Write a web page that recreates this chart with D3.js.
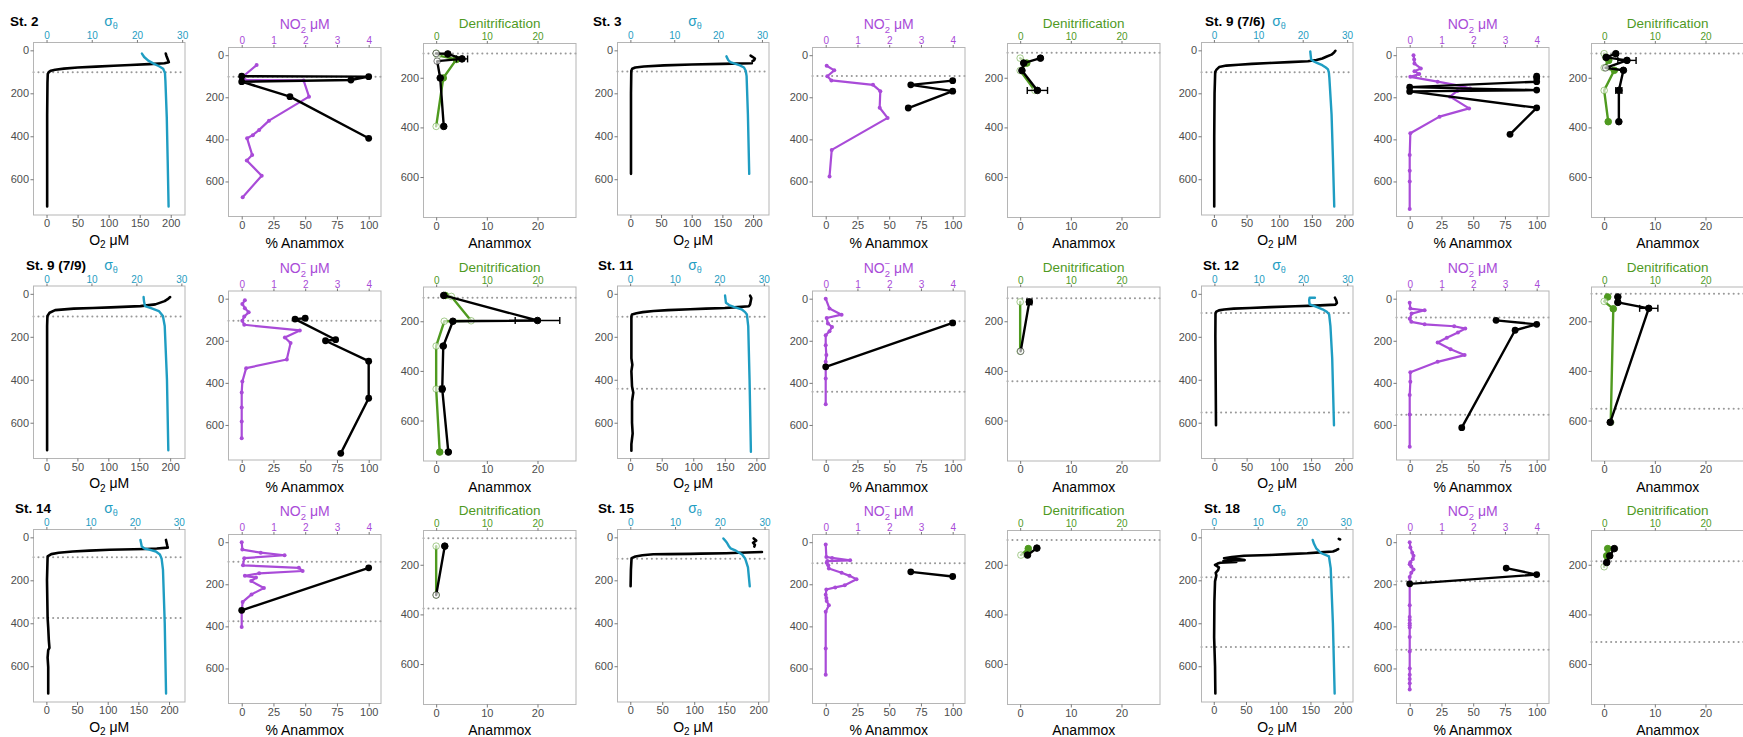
<!DOCTYPE html>
<html>
<head>
<meta charset="utf-8">
<script src="https://cdn.jsdelivr.net/npm/d3@7"></script>
<style>
  body { margin: 0; background: #fff; }
</style>
</head>
<body>
<svg id="chart" width="1743" height="737"></svg>
<script>
// ---- data ----
const stations = ["St. 2", "St. 3", "St. 9 (7/6)", "St. 9 (7/9)", "St. 11", "St. 12", "St. 14", "St. 15", "St. 18"];

// O2 profiles: [depth m, O2 uM]; null = gap in the trace
const o2Profiles = [
  [[15,192],[25,193],[40,195],[55,197],[60,190],[64,165],[68,135],[72,108],[76,80],[80,50],[85,28],[90,14],[95,7],[100,4],[110,2],[150,1.5],[300,1],[500,1],[727,1]],
  [[25,196],[30,199],[38,203],[45,202],[50,199],[55,null],[60,198],[63,150],[66,100],[70,55],[75,22],[80,8],[86,3],[95,1.5],[200,1],[575,1]],
  [[2,186],[10,184],[20,180],[30,172],[38,166],[45,157],[51,144],[55,115],[59,85],[63,58],[67,38],[71,19],[78,8],[90,4],[100,2],[200,1],[400,0.5],[727,0.5]],
  [[15,200],[25,196],[34,191],[42,183],[49,176],[57,152],[63,104],[66,75],[69,44],[76,14],[88,5],[103,1.5],[150,1],[400,1],[728,1]],
  [[8,190],[20,192],[35,191],[50,190],[58,188],[62,170],[66,150],[69,120],[72,95],[76,60],[80,37],[85,20],[90,10],[96,3],[105,2],[200,2],[300,2],[330,3.5],[360,2],[430,3],[460,5],[500,3],[600,3],[650,4],[700,2],[730,2]],
  [[18,187],[30,189],[42,190],[50,188],[55,156],[58,125],[62,87],[66,55],[69,30],[73,15],[77,7],[83,3],[90,1.7],[200,1.5],[400,2],[612,2.5]],
  [[12,195],[25,196],[38,197],[48,198],[52,180],[54,162],[58,103],[62,70],[66,43],[72,20],[78,8],[89,2],[200,1],[374,2],[420,3],[480,4],[515,5],[525,3],[560,2],[604,3],[727,3]],
  [[5,193],[15,197],[25,192],[35,195],[43,194],[55,null],[68,206],[72,170],[74,150],[76,110],[77,94],[78,60],[79,36],[83,19],[89,8],[97,2],[150,1],[228,0.5]],
  [[7,194],[10,196],[12,null],[55,193],[60,190],[66,185],[70,165],[74,145],[78,115],[82,87],[86,47],[92,28],[97,16],[102,40],[106,48],[110,15],[114,35],[118,10],[122,6],[128,2],[140,8],[151,7],[165,3],[177,4],[205,2],[300,1],[466,0.6],[600,2],[727,2.5]]
];

// potential density sigma-theta: [depth m, sigma]
const sigmaProfiles = [
  [[15,21.1],[31,21.6],[48,22.5],[62,23.7],[74,24.9],[86,25.8],[105,26.2],[143,26.3],[312,26.6],[512,26.8],[727,27.0]],
  [[28,21.9],[45,22.3],[55,22.8],[62,23.8],[70,25.0],[80,25.9],[95,26.3],[120,26.5],[300,26.8],[575,27.1]],
  [[5,21.7],[25,21.8],[43,21.9],[52,22.5],[58,23.2],[69,24.4],[80,25.2],[89,25.7],[105,25.9],[128,26.0],[300,26.5],[500,26.8],[727,27.1]],
  [[15,21.6],[35,21.7],[57,21.9],[62,22.6],[68,23.4],[80,25.0],[103,25.9],[150,26.3],[400,26.8],[728,27.1]],
  [[8,21.3],[25,21.4],[42,21.5],[52,22.2],[62,23.4],[72,25.0],[85,25.8],[96,26.2],[150,26.5],[400,26.8],[735,27.1]],
  [[18,22.7],[18,21.5],[30,21.4],[49,21.5],[55,22.3],[62,23.2],[72,24.4],[84,25.4],[95,25.9],[150,26.2],[300,26.6],[612,27.0]],
  [[12,21.3],[43,21.6],[52,22.2],[58,23.5],[66,24.8],[80,25.7],[100,26.1],[150,26.4],[400,26.8],[727,27.1]],
  [[5,20.8],[15,21.2],[25,21.6],[40,22.0],[51,22.4],[62,23.6],[80,25.0],[100,25.7],[140,26.3],[228,26.7]],
  [[12,22.5],[30,22.8],[51,23.3],[65,24.0],[74,24.5],[89,26.2],[143,26.6],[400,27.1],[727,27.5]]
];

// O2 axis limits and sigma -> O2 axis factor (secondary axis)
const o2Limits = [[-21,223],[-21,226],[-19,213],[-21,224],[-20,220],[-20,215],[-21,226],[-20,217],[-19,216]];
const sigmaFactor = [7.28, 7.15, 6.8, 7.27, 7.06, 6.87, 7.2, 7.0, 6.82];

// nitrite: [depth m, NO2 uM]
const no2Profiles = [
  [[47,0.47],[100,0.05],[118,0.1],[120,1.95],[197,2.12],[311,0.86],[355,0.55],[380,0.35],[395,0.17],[474,0.33],[500,0.16],[573,0.63],[675,0.03]],
  [[50,0.03],[72,0.27],[100,0.05],[120,0.18],[141,1.49],[171,1.72],[250,1.7],[298,1.95],[450,0.19],[577,0.12]],
  [[0,0.12],[20,0.14],[40,0.15],[63,0.35],[76,0.15],[90,0.3],[103,0.02],[126,0.88],[147,1.64],[158,1.9],[170,1.5],[197,1.27],[253,1.87],[292,0.94],[371,0.02],[474,0],[549,0],[600,0],[731,0]],
  [[8,0.1],[25,0.02],[45,0.1],[65,0.22],[85,0.08],[105,0.02],[124,0.08],[151,1.83],[184,1.36],[211,1.54],[289,1.42],[330,0.14],[394,0.02],[446,0],[517,0],[584,0],[663,0]],
  [[0,0],[47,0.12],[76,0.5],[92,0.03],[118,0.07],[134,0.2],[155,0.12],[174,0],[221,0],[268,0.02],[300,0],[330,0],[379,0],[502,0]],
  [[19,0],[47,0.02],[55,0.47],[71,0.06],[95,0],[110,0.05],[122,0.47],[131,1.4],[142,1.75],[161,1.52],[186,1.17],[208,0.88],[240,1.29],[268,1.73],[300,0.88],[350,0.02],[395,0.02],[458,0],[550,0],[703,0]],
  [[0,0],[35,0.02],[50,0.6],[62,1.35],[76,0.08],[110,0.04],[122,1.8],[137,1.92],[148,0.55],[160,0.1],[168,0.45],[185,0.3],[218,0.7],[248,0.31],[284,0.03],[330,0],[403,0]],
  [[11,0],[70,0.02],[75,0.2],[86,0.77],[90,0.05],[98,0.03],[110,0.08],[125,0.1],[145,0.5],[160,0.75],[176,0.97],[205,0.6],[215,0.3],[225,0.02],[250,0],[265,0.02],[280,0.03],[300,0.1],[330,0],[505,0],[630,0]],
  [[0,0],[25,0.02],[50,0.08],[65,0.12],[80,0.1],[95,0.02],[105,0],[115,0.05],[130,0.12],[145,0.05],[165,0],[205,0],[300,0],[355,0],[370,0],[385,0],[395,0],[405,0],[450,0],[520,0],[600,0],[630,0],[650,0],[670,0],[700,0]]
];

// % anammox: [depth m, percent]
const pctAnammox = [
  [[100,0],[102,100],[118,86],[126,0],[197,38],[395,100]],
  [[121,100],[141,67],[171,100],[251,65]],
  [[100,100],[108,100],[126,100],[152,0],[166,100],[172,0],[250,100],[376,79]],
  [[93,50],[97,42],[195,74],[200,66],[297,100],[473,100],[735,78]],
  [[115,100],[324,0]],
  [[103,68],[122,100],[150,83],[613,41]],
  [[122,100],[324,0]],
  [[141,67],[163,100]],
  [[123,76],[154,100],[198,0]]
];

// rates: [depth m, rate, sd, significant (1 filled / 0 open)]
const anammoxRates = [
  [[102,0,0,0],[104,2.3,0,1],[124,5.1,1.1,1],[133,0.2,0,0],[201,0.8,0,1],[396,1.5,0,1]],
  [[121,4.0,0,1],[141,0.7,0,1],[171,0.35,0,1],[251,3.4,2,1]],
  [[103,2.3,0,1],[118,0.4,0,1],[130,4.5,1.8,1],[160,0.3,0,0],[170,3.8,0,1],[251,2.9,0.6,1],[377,2.9,0,1]],
  [[96,1.5,0,1],[197,20,4.4,1],[200,3.3,0,1],[300,1.4,0,1],[473,1.2,0.4,1],[727,2.4,0,1]],
  [[122,1.8,0.5,1],[321,0.1,0,0]],
  [[102,2.7,0,1],[124,2.7,0,1],[148,8.8,1.8,1],[607,1.2,0,1]],
  [[125,1.7,0,1],[322,0,0,0]],
  [[133,3.3,0,1],[161,1.45,0,1]],
  [[135,2.0,0,1],[164,1.1,0,1],[191,0.5,0,1]]
];
const denitRates = [
  [[101,0,0,0],[110,0.3,0,0],[126,4.0,0,1],[201,1.4,0,1],[396,0,0,0]],
  [[121,0,0,0],[141,1.3,0,1],[171,0,0,0],[251,2.9,0,0]],
  [[103,0,0,0],[118,0.3,0,0],[130,0.9,0,1],[160,0,0,0],[170,2.0,0,1],[251,0,0,0],[377,0.8,0,1]],
  [[96,1.8,0,1],[100,3.0,0,0],[198,6.9,0,0],[200,1.6,0,0],[300,0,0,0],[473,0,0,0],[727,0.7,0,1]],
  [[122,0,0,0],[321,0,0,0]],
  [[102,0.7,0,1],[120,0,0,0],[150,1.8,0,1],[607,1.3,0,0]],
  [[125,0,0,0],[322,0,0,0]],
  [[135,1.6,0,1],[161,0.15,0,0]],
  [[135,0.7,0,1],[164,0.5,0,1],[208,0,0,0]]
];

// dotted lines: ODZ boundaries (m)
const odzDepths = [[102],[99],[102],[105],[107,442],[89,552],[93,376],[100],[186,511]];

// tick labels
const depthTicks = [0, 200, 400, 600];
const rateDepthTicks = [200, 400, 600];
const o2Ticks = [0, 50, 100, 150, 200];
const sigmaTicks = [0, 10, 20, 30];
const pctTicks = [0, 25, 50, 75, 100];
const no2Ticks = [0, 1, 2, 3, 4];
const rateTicks = [0, 10, 20];

// ---- layout ----
const FONT = "'Liberation Sans', Arial, Helvetica, sans-serif";
const purple = "#a94bd8", teal = "#1f9dc2", green = "#4f9a1f", tickGray = "#4d4d4d", borderGray = "#b5b5b5";
const colW = 584, rowH = 243.5;
const boxX = [[33.5, 185], [228.5, 381], [423.5, 576]];
const boxY = [[42.5, 215], [47.5, 216.5], [43.5, 217.5]];
const titleY = [244.5, 248, 248];
const depthDomain = [[-36.5, 766.5], [-36.5, 766.5], [62, 763]];
const pctDomain = [-10.4, 109.7];
const rateDomain = [-2.5, 27.6];
const titleX = [10, 9, 37, 26, 14, 35, 15, 14, 36];
const fmt = d3.format("d");

const svg = d3.select("#chart");

function styleAxis(sel, color, size) {
  sel.attr("font-family", FONT).attr("font-size", size);
  sel.select(".domain").remove();
  sel.selectAll(".tick line").attr("stroke", "#555").attr("stroke-width", 0.8);
  sel.selectAll(".tick text").attr("fill", color);
}

function frame(g, p, x, st) {
  const y = d3.scaleLinear().domain(depthDomain[p]).range(boxY[p]);
  odzDepths[st].forEach(d => {
    g.append("line")
      .attr("x1", boxX[p][0]).attr("x2", boxX[p][1])
      .attr("y1", y(d)).attr("y2", y(d))
      .attr("stroke", "#999").attr("stroke-width", 2)
      .attr("stroke-dasharray", "0.1 4.8").attr("stroke-linecap", "round");
  });
  g.append("rect")
    .attr("x", boxX[p][0]).attr("y", boxY[p][0])
    .attr("width", boxX[p][1] - boxX[p][0]).attr("height", boxY[p][1] - boxY[p][0])
    .attr("fill", "none").attr("stroke", borderGray).attr("stroke-width", 1);
  g.append("g").attr("transform", `translate(${boxX[p][0]},0)`)
    .call(d3.axisLeft(y).tickValues(p === 2 ? rateDepthTicks : depthTicks).tickFormat(fmt).tickSize(3).tickPadding(1.5))
    .call(styleAxis, tickGray, 11);
  return y;
}

function bottomAxis(g, p, x, ticks) {
  g.append("g").attr("transform", `translate(0,${boxY[p][1]})`)
    .call(d3.axisBottom(x).tickValues(ticks).tickFormat(fmt).tickSize(3).tickPadding(1.5))
    .call(styleAxis, tickGray, 11);
}

function topAxis(g, p, scale, ticks, color) {
  g.append("g").attr("transform", `translate(0,${boxY[p][0]})`)
    .call(d3.axisTop(scale).tickValues(ticks).tickFormat(fmt).tickSize(2.5).tickPadding(1))
    .call(styleAxis, color, 10);
}

function label(g, x, y, color, size) {
  return g.append("text").attr("x", x).attr("y", y).attr("text-anchor", "middle")
    .attr("font-family", FONT).attr("font-size", size).attr("fill", color);
}

function path(g, data, x, y, color, width) {
  const line = d3.line().defined(d => d[1] != null).x(d => x(d[1])).y(d => y(d[0]));
  g.append("path").datum(data).attr("d", line)
    .attr("fill", "none").attr("stroke", color).attr("stroke-width", width)
    .attr("stroke-linejoin", "round").attr("stroke-linecap", "round");
}

function rateSeries(g, data, x, y, color) {
  path(g, data, x, y, color, 2.4);
  data.filter(d => d[2] > 0).forEach(d => {
    const y0 = y(d[0]), xa = x(d[1] - d[2]), xb = x(d[1] + d[2]);
    g.append("line").attr("x1", xa).attr("x2", xb).attr("y1", y0).attr("y2", y0).attr("stroke", color).attr("stroke-width", 1.4);
    [xa, xb].forEach(xx => g.append("line").attr("x1", xx).attr("x2", xx).attr("y1", y0 - 3.5).attr("y2", y0 + 3.5).attr("stroke", color).attr("stroke-width", 1.4));
  });
  g.selectAll(null).data(data).enter().append("circle")
    .attr("cx", d => x(d[1])).attr("cy", d => y(d[0])).attr("r", 3.3)
    .attr("fill", d => d[3] ? color : "#fff").attr("fill-opacity", d => d[3] ? 1 : 0.6)
    .attr("stroke", color).attr("stroke-opacity", d => d[3] ? 1 : 0.5).attr("stroke-width", 1);
}

stations.forEach((name, st) => {
  const col = st % 3, row = Math.floor(st / 3);
  const g = svg.append("g").attr("transform", `translate(${col * colW},${row * rowH})`);

  // station title
  g.append("text").attr("x", titleX[st]).attr("y", 26)
    .attr("font-family", FONT).attr("font-size", 13.5).attr("font-weight", "bold").text(name);

  // panel 1: O2 and sigma-theta
  const x1 = d3.scaleLinear().domain(o2Limits[st]).range(boxX[0]);
  const y1 = frame(g, 0, x1, st);
  const sig = d3.scaleLinear().domain(o2Limits[st].map(v => v / sigmaFactor[st])).range(boxX[0]);
  bottomAxis(g, 0, x1, o2Ticks);
  topAxis(g, 0, sig, sigmaTicks, teal);
  path(g, o2Profiles[st], x1, y1, "#000", 2.6);
  path(g, sigmaProfiles[st], sig, y1, teal, 2.4);
  const s = label(g, 111, 26, teal, 14);
  s.append("tspan").text("σ");
  s.append("tspan").attr("dy", 3).attr("font-size", 9).text("θ");
  const o = label(g, (boxX[0][0] + boxX[0][1]) / 2, titleY[0], "#000", 14);
  o.append("tspan").text("O");
  o.append("tspan").attr("dy", 3.5).attr("font-size", 10).text("2");
  o.append("tspan").attr("dy", -3.5).text(" μM");

  // panel 2: nitrite and % anammox
  const x2 = d3.scaleLinear().domain(pctDomain).range(boxX[1]);
  const y2 = frame(g, 1, x2, st);
  const nx = d3.scaleLinear().domain(pctDomain.map(v => v / 25)).range(boxX[1]);
  bottomAxis(g, 1, x2, pctTicks);
  topAxis(g, 1, nx, no2Ticks, purple);
  path(g, no2Profiles[st], nx, y2, purple, 2.2);
  g.selectAll(null).data(no2Profiles[st]).enter().append("circle")
    .attr("cx", d => nx(d[1])).attr("cy", d => y2(d[0])).attr("r", 2).attr("fill", purple);
  path(g, pctAnammox[st], x2, y2, "#000", 2.4);
  g.selectAll(null).data(pctAnammox[st]).enter().append("circle")
    .attr("cx", d => x2(d[1])).attr("cy", d => y2(d[0])).attr("r", 3.4).attr("fill", "#000");
  const n = label(g, (boxX[1][0] + boxX[1][1]) / 2, 29, purple, 14);
  n.append("tspan").text("NO");
  n.append("tspan").attr("dy", 4).attr("font-size", 9.5).text("2");
  n.append("tspan").attr("dx", -5.5).attr("dy", -10).attr("font-size", 9.5).text("−");
  n.append("tspan").attr("dy", 6).text(" μM");
  label(g, (boxX[1][0] + boxX[1][1]) / 2, titleY[1], "#000", 14).text("% Anammox");

  // panel 3: anammox and denitrification rates
  const x3 = d3.scaleLinear().domain(rateDomain).range(boxX[2]);
  const y3 = frame(g, 2, x3, st);
  bottomAxis(g, 2, x3, rateTicks);
  topAxis(g, 2, x3, rateTicks, green);
  rateSeries(g, denitRates[st], x3, y3, green);
  rateSeries(g, anammoxRates[st], x3, y3, "#000");
  label(g, (boxX[2][0] + boxX[2][1]) / 2, 28, green, 13.5).text("Denitrification");
  label(g, (boxX[2][0] + boxX[2][1]) / 2, titleY[2], "#000", 14).text("Anammox");
});
</script>
</body>
</html>
